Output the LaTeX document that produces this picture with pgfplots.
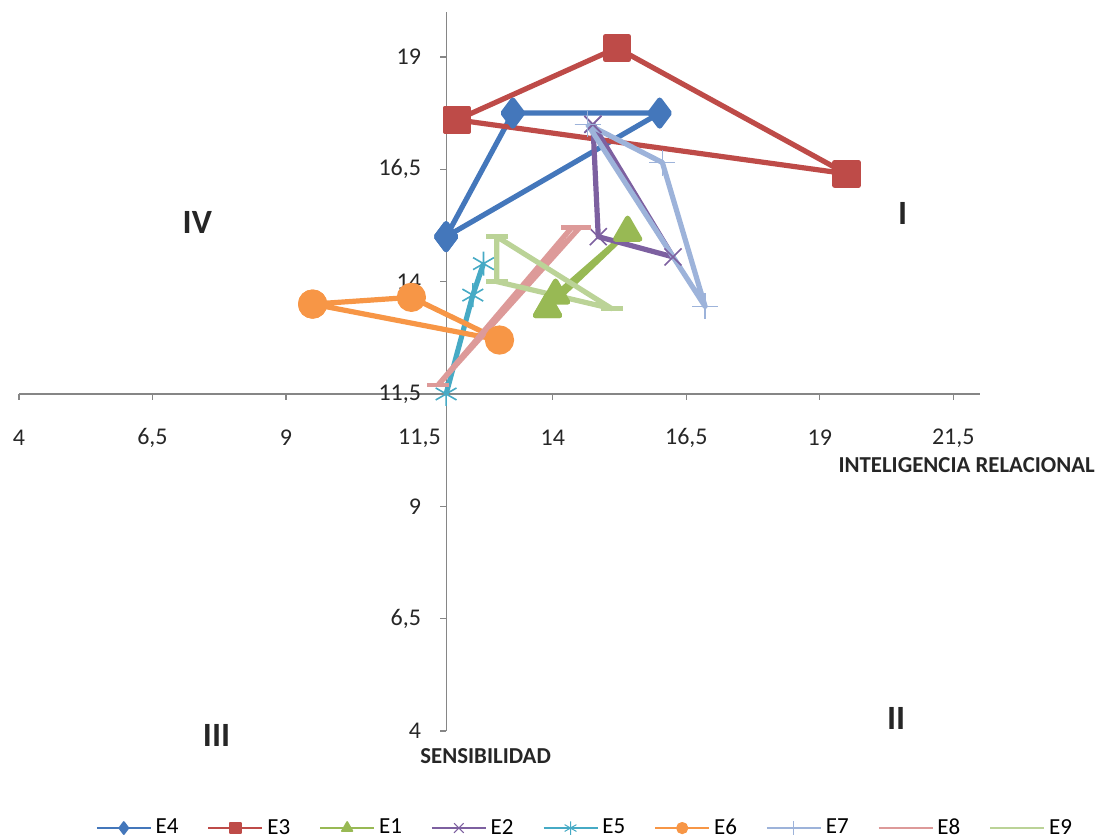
\documentclass[border=0pt]{standalone}
\usepackage{pgfplots}
\pgfplotsset{compat=1.18}
\usepackage{fontspec}
\setmainfont{Carlito}
\definecolor{cE4}{HTML}{4477BB}
\definecolor{cE3}{HTML}{BE4B48}
\definecolor{cE1}{HTML}{98B954}
\definecolor{cE2}{HTML}{7D60A0}
\definecolor{cE5}{HTML}{46AAC5}
\definecolor{cE6}{HTML}{F79646}
\definecolor{cE7}{HTML}{9DB3DA}
\definecolor{cE8}{HTML}{DD9A99}
\definecolor{cE9}{HTML}{BBD397}
\definecolor{axgray}{HTML}{868686}
\begin{document}
\begin{tikzpicture}
\useasboundingbox (-9.5pt,-54pt) rectangle (540.5pt,365.5pt);
\begin{axis}[
  at={(0pt,0pt)}, anchor=south west,
  scale only axis, width=480.5pt, height=359.5pt,
  xmin=4, xmax=22, ymin=4, ymax=20,
  hide axis, clip=false,
  legend columns=9,
  legend style={at={(0.59,-0.135)}, anchor=center, draw=none, fill=none,
    font=\fontsize{11.5}{13}\selectfont,
    /tikz/every even column/.append style={column sep=12.5pt}},
  legend image code/.code={\draw[mark repeat=2,mark phase=2] plot coordinates {(0pt,0pt) (13.5pt,0pt) (27pt,0pt)};},
  every axis plot/.append style={line join=round},
]
% legend images
\addlegendimage{cE4, line width=0.9pt, mark=diamond*, mark size=3pt}
\addlegendentry{E4}
\addlegendimage{cE3, line width=0.9pt, mark=square*, mark size=2.6pt}
\addlegendentry{E3}
\addlegendimage{cE1, line width=0.9pt, mark=triangle*, mark size=3pt}
\addlegendentry{E1}
\addlegendimage{cE2, line width=0.9pt, mark=x, mark size=3.4pt, mark options={line width=0.5pt}}
\addlegendentry{E2}
\addlegendimage{cE5, line width=0.9pt, mark=asterisk, mark size=3.4pt, mark options={line width=0.5pt}}
\addlegendentry{E5}
\addlegendimage{cE6, line width=0.9pt, mark=*, mark size=2.6pt}
\addlegendentry{E6}
\addlegendimage{cE7, line width=0.9pt, mark=+, mark size=3.4pt, mark options={line width=0.5pt}}
\addlegendentry{E7}
\addlegendimage{cE8, line width=0.9pt, mark=-, mark size=2.2pt, mark options={line width=1.3pt}}
\addlegendentry{E8}
\addlegendimage{cE9, line width=0.9pt, mark=-, mark size=2.2pt, mark options={line width=1.3pt}}
\addlegendentry{E9}

% axes
\draw[axgray, line width=0.6pt] (axis cs:4,11.5) -- (axis cs:22,11.5);
\draw[axgray, line width=0.6pt] (axis cs:12,4) -- (axis cs:12,20);
\pgfplotsinvokeforeach{4,6.5,9,14,16.5,19,21.5}{
  \draw[axgray, line width=0.6pt] (axis cs:#1,11.5) -- ([yshift=-3pt]axis cs:#1,11.5);
}
\pgfplotsinvokeforeach{4,6.5,9,11.5,14,16.5,19}{
  \draw[axgray, line width=0.6pt] (axis cs:12,#1) -- ([xshift=-3pt]axis cs:12,#1);
}
\begin{scope}[every node/.style={font=\fontsize{12}{14}\selectfont, text=black!85}]
\node at ([yshift=-22pt]axis cs:4,11.5) {4};
\node at ([yshift=-22pt]axis cs:6.5,11.5) {6,5};
\node at ([yshift=-22pt]axis cs:9,11.5) {9};
\node at ([yshift=-22pt]axis cs:11.5,11.5) {11,5};
\node at ([yshift=-22pt]axis cs:14,11.5) {14};
\node at ([yshift=-22pt]axis cs:16.5,11.5) {16,5};
\node at ([yshift=-22pt]axis cs:19,11.5) {19};
\node at ([yshift=-22pt]axis cs:21.5,11.5) {21,5};
\node[anchor=east] at ([xshift=-9pt]axis cs:12,19) {19};
\node[anchor=east] at ([xshift=-9pt]axis cs:12,16.5) {16,5};
\node[anchor=east] at ([xshift=-9pt]axis cs:12,14) {14};
\node[anchor=east] at ([xshift=-9pt]axis cs:12,11.5) {11,5};
\node[anchor=east] at ([xshift=-9pt]axis cs:12,9) {9};
\node[anchor=east] at ([xshift=-9pt]axis cs:12,6.5) {6,5};
\node[anchor=east] at ([xshift=-9pt]axis cs:12,4) {4};
\end{scope}
\node[font=\bfseries\fontsize{11.4}{13}\selectfont, text=black!85] at (axis cs:21.75,9.91) {INTELIGENCIA RELACIONAL};
\node[font=\bfseries\fontsize{11.4}{13}\selectfont, text=black!85] at (axis cs:12.74,3.44) {SENSIBILIDAD};
\begin{scope}[every node/.style={font=\bfseries\fontsize{17}{19}\selectfont, text=black!85}]
\node at (axis cs:7.34,15.31) {IV};
\node at (axis cs:20.55,15.51) {I};
\node at (axis cs:7.7,3.89) {III};
\node at (axis cs:20.43,4.27) {II};
\end{scope}

% data
\addplot[cE4, line width=2.6pt, mark=diamond*, mark size=6.5pt, mark options={solid}, forget plot]
  coordinates {(12,15) (13.25,17.75) (16,17.75) (12,15)};
\addplot[cE3, line width=2.6pt, mark=square*, mark size=5.8pt, mark options={solid}, forget plot]
  coordinates {(12.2,17.6) (15.2,19.2) (19.5,16.4) (12.2,17.6)};
\addplot[cE1, line width=2.6pt, mark=triangle*, mark size=7pt, mark options={solid}, forget plot]
  coordinates {(13.9,13.4) (15.4,15.1) (14.05,13.7) (13.9,13.4)};
\addplot[cE2, line width=2.6pt, mark=x, mark size=6pt, mark options={solid, line width=0.8pt}, forget plot]
  coordinates {(14.75,17.5) (14.85,15.0) (16.25,14.55) (14.75,17.5)};
\addplot[cE5, line width=2.6pt, mark=asterisk, mark size=6pt, mark options={solid, line width=0.8pt}, forget plot]
  coordinates {(12.0,11.5) (12.5,13.7) (12.7,14.4)};
\addplot[cE6, line width=2.6pt, mark=*, mark size=6pt, mark options={solid}, forget plot]
  coordinates {(9.5,13.5) (11.35,13.65) (13.0,12.7) (9.5,13.5)};
\addplot[cE7, line width=2.6pt, mark=+, mark size=6.5pt, mark options={solid, line width=0.8pt}, forget plot]
  coordinates {(14.65,17.5) (16.05,16.65) (16.85,13.45) (14.65,17.5)};
\addplot[cE8, line width=2.6pt, mark=-, mark size=5.5pt, mark options={solid, line width=2.4pt}, forget plot]
  coordinates {(11.85,11.7) (14.35,15.2) (14.5,15.2) (11.85,11.7)};
\addplot[cE9, line width=2.6pt, mark=-, mark size=5.5pt, mark options={solid, line width=2.4pt}, forget plot]
  coordinates {(12.95,15.0) (12.95,14.0) (15.1,13.4) (12.95,15.0)};
\end{axis}
\end{tikzpicture}
\end{document}
